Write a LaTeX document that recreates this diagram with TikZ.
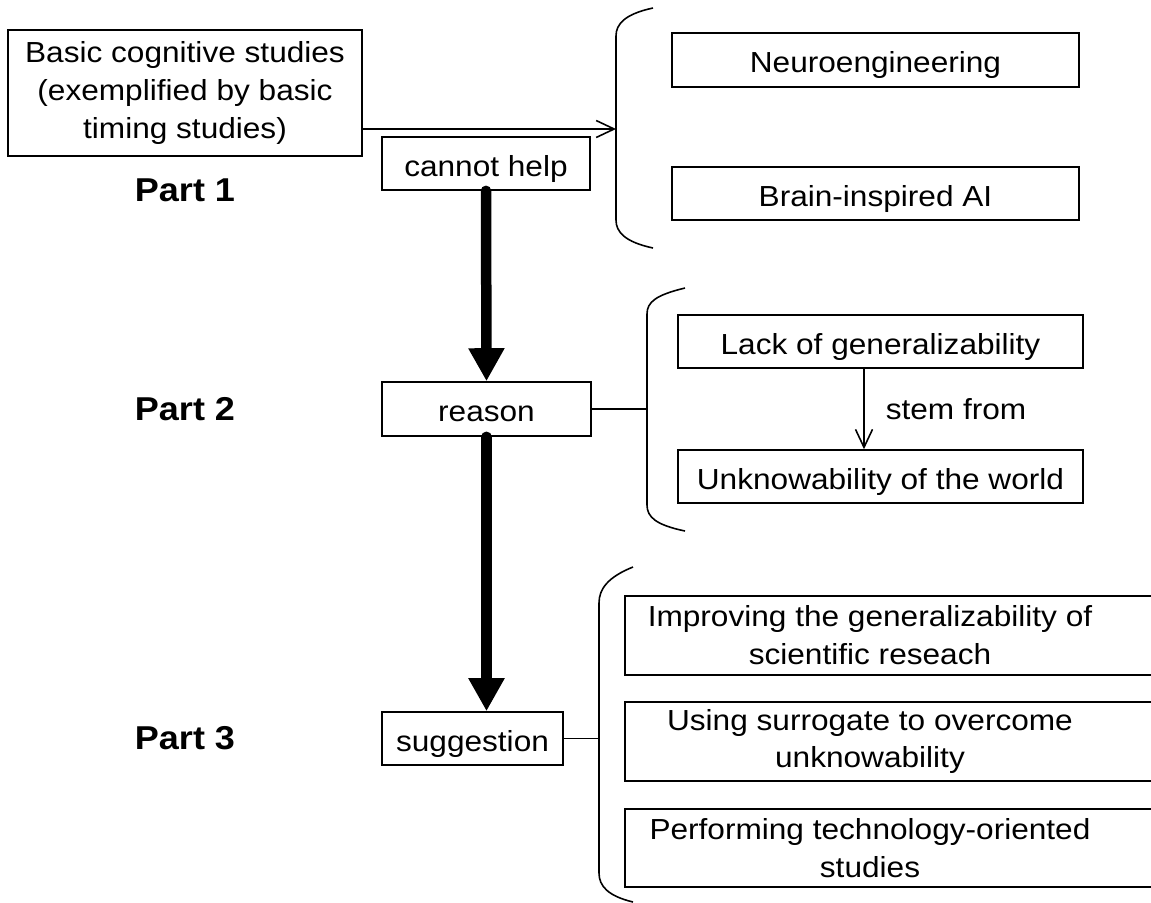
\documentclass[tikz,border=0pt]{standalone}
\usepackage{fontspec}
\setmainfont[FakeStretch=1.09]{Liberation Sans}
\usetikzlibrary{arrows.meta}

\begin{document}
\begin{tikzpicture}[y=-1cm,
        font=\fontsize{8.25pt}{10.8pt}\selectfont,
        box/.style={draw, line width=0.45pt, inner sep=0pt, align=center},
        oneline/.style={box, text height=0.9em, text depth=0.18em},
        partlabel/.style={font=\fontsize{9.4pt}{11pt}\selectfont\bfseries},
        thinarrow/.style={line width=0.45pt, -{Straight Barb[length=0.18cm,width=0.17cm]}},
        bigarrow/.style={line width=0.105cm, line cap=round, -{Triangle[length=0.33cm,width=0.34cm]}},
        bracket/.style={line width=0.45pt}]
        \useasboundingbox (0,0) rectangle (11.51,9.03);

        % Left column
        \node[box, minimum width=3.54cm, minimum height=1.26cm] (basic) at (1.85,0.93)
            {Basic cognitive studies\\(exemplified by basic\\timing studies)};
        \node[oneline, minimum width=2.08cm, minimum height=0.53cm] (help) at (4.86,1.635) {cannot help};
        \node[oneline, minimum width=2.09cm, minimum height=0.54cm] (reason) at (4.865,4.09) {reason};
        \node[oneline, minimum width=1.81cm, minimum height=0.53cm] (sugg) at (4.725,7.385) {suggestion};

        % Part labels
        \node[partlabel] (part1) at (1.85,1.90) {Part 1};
        \node[partlabel] (part2) at (1.85,4.09) {Part 2};
        \node[partlabel] (part3) at (1.85,7.38) {Part 3};

        % Right column, part 1
        \node[oneline, minimum width=4.07cm, minimum height=0.54cm] (neuro) at (8.755,0.60) {Neuroengineering};
        \node[oneline, minimum width=4.07cm, minimum height=0.53cm] (brain) at (8.755,1.935) {Brain-inspired AI};

        % Right column, part 2
        \node[oneline, minimum width=4.05cm, minimum height=0.53cm] (lack) at (8.805,3.415) {Lack of generalizability};
        \node[oneline, minimum width=4.05cm, minimum height=0.53cm] (unknow) at (8.805,4.765) {Unknowability of the world};

        % Right column, part 3 (boxes run off the page)
        \node[box, draw=none, minimum width=4.88cm, minimum height=0.77cm] (improve) at (8.70,6.355)
            {Improving the generalizability of\\scientific reseach};
        \node[box, draw=none, minimum width=4.88cm, minimum height=0.77cm] (surrogate) at (8.70,7.415)
            {Using surrogate to overcome\\unknowability};
        \node[box, draw=none, minimum width=4.88cm, minimum height=0.76cm] (perform) at (8.70,8.48)
            {Performing technology-oriented\\studies};
        \foreach \n in {improve,surrogate,perform}
            \draw[line width=0.45pt] (\n.north west) rectangle ([xshift=0.6cm]\n.south east);

        % Brackets
        \draw[bracket] (6.53,0.08) .. controls (6.25,0.14) and (6.16,0.24) .. (6.16,0.36)
            -- (6.16,2.20) .. controls (6.16,2.32) and (6.25,2.42) .. (6.53,2.48);
        \draw[bracket] (6.85,2.88) .. controls (6.56,2.95) and (6.47,3.02) .. (6.47,3.14)
            -- (6.47,5.05) .. controls (6.47,5.17) and (6.56,5.25) .. (6.85,5.31);
        \draw[bracket] (6.33,5.67) .. controls (6.08,5.77) and (5.99,5.89) .. (5.99,6.03)
            -- (5.99,8.73) .. controls (5.99,8.86) and (6.08,8.96) .. (6.33,9.02);

        % Ends of the connectors on the brackets
        \coordinate (br1) at (6.16,1.29);
        \coordinate (br2) at (6.47,4.09);
        \coordinate (br3) at (5.99,7.385);

        % Connectors
        \draw[thinarrow] (basic.east |- br1) -- (br1);
        \draw[line width=0.45pt] (reason.east) -- (br2);
        \draw[line width=0.45pt] (sugg.east) -- (br3);
        \draw[thinarrow] ([xshift=-0.165cm]lack.south) -- ([xshift=-0.165cm]unknow.north)
            node[midway, right, inner sep=0pt, xshift=0.21cm] (stem) {stem from};

        % Thick arrows down the middle
        \draw[bigarrow] (help.south) -- (reason.north);
        \draw[bigarrow] (reason.south) -- (reason.south |- sugg.north);
    \end{tikzpicture}
\end{document}
